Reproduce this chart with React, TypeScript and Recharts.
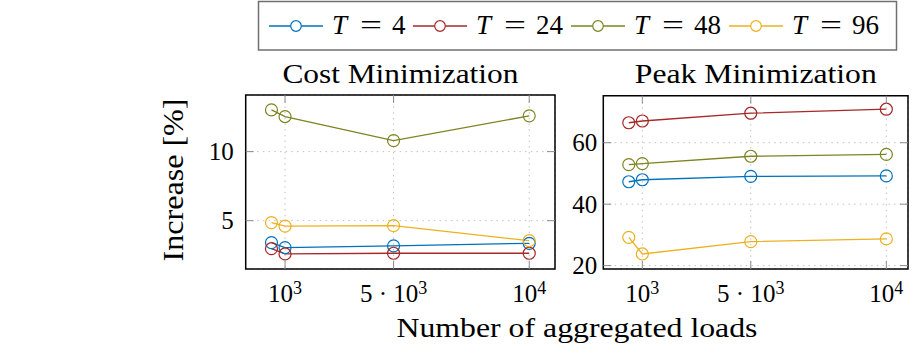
import React from 'react';
import { LineChart, Line, XAxis, YAxis, CartesianGrid, ReferenceArea } from 'recharts';

// ---- data ----
const loads = [500, 1000, 5000, 10000];
const xTicks = [1000, 5000, 10000];
const xTickLabels = ['10^3', '5·10^3', '10^4'];

const seriesKeys = ['t4', 't24', 't48', 't96'];
const seriesNames = ['T = 4', 'T = 24', 'T = 48', 'T = 96'];
const seriesColors = ['#0072BD', '#A62828', '#7D8420', '#EDB120'];

const costT4 = [3.41, 3.05, 3.17, 3.36];
const costT24 = [2.97, 2.59, 2.64, 2.64];
const costT48 = [13.02, 12.54, 10.8, 12.59];
const costT96 = [4.86, 4.6, 4.64, 3.55];

const peakT4 = [47.3, 47.95, 49.06, 49.2];
const peakT24 = [66.5, 67.06, 69.6, 70.9];
const peakT48 = [52.85, 53.2, 55.6, 56.2];
const peakT96 = [29.2, 23.8, 27.8, 28.7];

const costYTicks = [5, 10];
const peakYTicks = [20, 40, 60];

const titles = ['Cost Minimization', 'Peak Minimization'];
const yLabel = 'Increase [%]';
const xLabel = 'Number of aggregated loads';

const buildRows = (a: number[], b: number[], c: number[], d: number[]) =>
  loads.map((x, i) => ({ x, t4: a[i], t24: b[i], t48: c[i], t96: d[i] }));

const costRows = buildRows(costT4, costT24, costT48, costT96);
const peakRows = buildRows(peakT4, peakT24, peakT48, peakT96);

const FONT = "'Liberation Serif', 'Times New Roman', serif";
const TICK_COLOR = '#8c8c8c';

function parseTick(s: string) {
  const m = s.match(/^(?:(\d+)·)?(\d+)\^(\d+)$/);
  if (!m) return { pre: '', base: s, exp: '' };
  return { pre: m[1] ? m[1] + ' · ' : '', base: m[2], exp: m[3] };
}

function XTick(props: any) {
  const { x, y, payload, plotTop, plotBottom } = props;
  const idx = xTicks.indexOf(payload.value);
  const { pre, base, exp } = parseTick(xTickLabels[idx] ?? String(payload.value));
  return (
    <g>
      <line x1={x} x2={x} y1={plotBottom} y2={plotBottom - 8} stroke={TICK_COLOR} strokeWidth={1} />
      <line x1={x} x2={x} y1={plotTop} y2={plotTop + 8} stroke={TICK_COLOR} strokeWidth={1} />
      <text x={x} y={y + 33} textAnchor="middle" fontFamily={FONT} fontSize={25} fill="#000">
        {pre}
        {base}
        <tspan dy={-8} fontSize={18}>{exp}</tspan>
      </text>
    </g>
  );
}

function YTick(props: any) {
  const { x, y, payload, plotLeft, plotRight } = props;
  return (
    <g>
      <line x1={plotLeft} x2={plotLeft + 8} y1={y} y2={y} stroke={TICK_COLOR} strokeWidth={1} />
      <line x1={plotRight - 8} x2={plotRight} y1={y} y2={y} stroke={TICK_COLOR} strokeWidth={1} />
      <text x={x} y={y} dy="0.34em" textAnchor="end" fontFamily={FONT} fontSize={25} fill="#000">
        {payload.value}
      </text>
    </g>
  );
}

type PanelProps = {
  data: any[];
  xDomain: [number, number];
  yDomain: [number, number];
  yTicks: number[];
  left: number;
  top: number;
  width: number;
  height: number;
  mTop: number;
  mRight: number;
  yAxisWidth: number;
  yGap: number;
};

function Panel(p: PanelProps) {
  const xAxisHeight = 40;
  const plotLeft = p.yAxisWidth;
  const plotTop = p.mTop;
  const plotRight = p.width - p.mRight;
  const plotBottom = p.height - xAxisHeight;
  return (
    <div style={{ position: 'absolute', left: p.left, top: p.top }}>
      <LineChart
        width={p.width}
        height={p.height}
        data={p.data}
        margin={{ top: p.mTop, right: p.mRight, bottom: 0, left: 0 }}
      >
        <CartesianGrid stroke="#c2c2c2" strokeDasharray="1.5 4.2" strokeWidth={1} />
        <XAxis
          type="number"
          dataKey="x"
          domain={p.xDomain}
          ticks={xTicks}
          allowDataOverflow
          interval={0}
          height={xAxisHeight}
          tickSize={0}
          tickMargin={0}
          axisLine={false}
          tickLine={false}
          tick={(tp: any) => <XTick {...tp} plotTop={plotTop} plotBottom={plotBottom} />}
        />
        <YAxis
          type="number"
          domain={p.yDomain}
          ticks={p.yTicks}
          allowDataOverflow
          interval={0}
          width={p.yAxisWidth}
          tickSize={0}
          tickMargin={p.yGap}
          axisLine={false}
          tickLine={false}
          tick={(tp: any) => <YTick {...tp} plotLeft={plotLeft} plotRight={plotRight} />}
        />
        {seriesKeys.map((k, i) => (
          <Line
            key={k}
            type="linear"
            dataKey={k}
            stroke={seriesColors[i]}
            strokeWidth={1.3}
            dot={{ r: 6, fill: 'none', stroke: seriesColors[i], strokeWidth: 1.2 }}
            activeDot={false}
            isAnimationActive={false}
          />
        ))}
        <ReferenceArea
          x1={p.xDomain[0]}
          x2={p.xDomain[1]}
          y1={p.yDomain[0]}
          y2={p.yDomain[1]}
          fill="none"
          fillOpacity={0}
          stroke="#000"
          strokeWidth={1.5}
          ifOverflow="visible"
        />
      </LineChart>
    </div>
  );
}

function LegendEntry({ name, color, lx }: { name: string; color: string; lx: number }) {
  const [lhs, rhs] = name.split(' = ');
  const t0 = lx + 63;
  return (
    <g>
      <line x1={lx} x2={lx + 54} y1={26} y2={26} stroke={color} strokeWidth={1.3} />
      <circle cx={lx + 27} cy={26} r={5.3} fill="#fff" stroke={color} strokeWidth={1.2} />
      <text x={t0} y={33.5} fontFamily={FONT} fontSize={27} fontStyle="italic">
        {lhs}
      </text>
      <text x={t0 + 28} y={33.5} fontFamily={FONT} fontSize={27} textLength={22} lengthAdjust="spacingAndGlyphs">
        =
      </text>
      <text x={t0 + 60} y={33.5} fontFamily={FONT} fontSize={27}>
        {rhs}
      </text>
    </g>
  );
}

export default function App() {
  const legendLineX = [269, 413, 571, 729];
  return (
    <div style={{ position: 'absolute', left: 0, top: 0, width: 918, height: 360, background: '#fff', overflow: 'hidden' }}>
      <Panel
        data={costRows}
        xDomain={[-450, 10950]}
        yDomain={[1.5, 14.1]}
        yTicks={costYTicks}
        left={190}
        top={85}
        width={375}
        height={224}
        mTop={10}
        mRight={10}
        yAxisWidth={55.7}
        yGap={12}
      />
      <Panel
        data={peakRows}
        xDomain={[-440, 10800]}
        yDomain={[18.9, 75.3]}
        yTicks={peakYTicks}
        left={560}
        top={85}
        width={353}
        height={224}
        mTop={10.7}
        mRight={5}
        yAxisWidth={43.3}
        yGap={6}
      />
      <svg
        width={918}
        height={360}
        style={{ position: 'absolute', left: 0, top: 0, pointerEvents: 'none' }}
      >
        <text x={400.4} y={83} textAnchor="middle" fontFamily={FONT} fontSize={28} textLength={236} lengthAdjust="spacingAndGlyphs">
          {titles[0]}
        </text>
        <text x={755.8} y={83} textAnchor="middle" fontFamily={FONT} fontSize={28} textLength={242} lengthAdjust="spacingAndGlyphs">
          {titles[1]}
        </text>
        <text x={577} y={337} textAnchor="middle" fontFamily={FONT} fontSize={28} textLength={361} lengthAdjust="spacingAndGlyphs">
          {xLabel}
        </text>
        <text
          x={183}
          y={180}
          textAnchor="middle"
          fontFamily={FONT}
          fontSize={30}
          textLength={163}
          lengthAdjust="spacingAndGlyphs"
          transform="rotate(-90, 183, 180)"
        >
          {yLabel}
        </text>
        <rect x={258.5} y={1.5} width={638} height={48.5} fill="#fff" stroke="#707070" strokeWidth={1.5} />
        {seriesNames.map((n, i) => (
          <LegendEntry key={n} name={n} color={seriesColors[i]} lx={legendLineX[i]} />
        ))}
      </svg>
    </div>
  );
}
